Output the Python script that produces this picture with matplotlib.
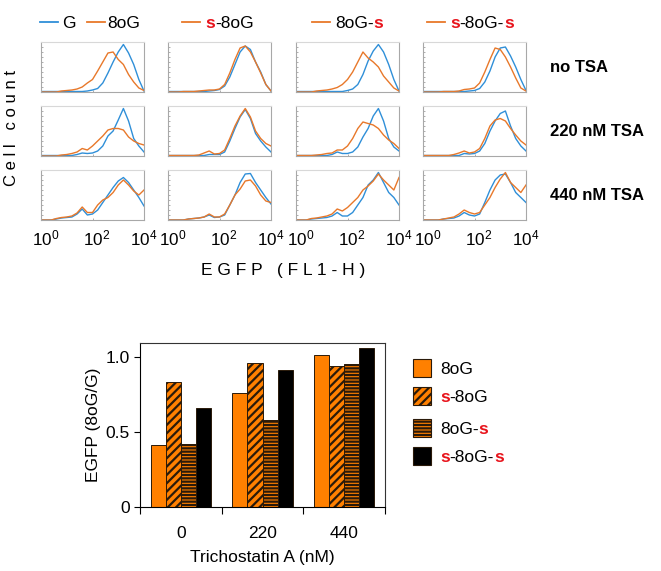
import matplotlib
matplotlib.use('Agg')
import matplotlib.pyplot as plt
from matplotlib.offsetbox import TextArea, HPacker, AnnotationBbox
from matplotlib.patches import Rectangle
from matplotlib.lines import Line2D
from matplotlib.transforms import ScaledTranslation

plt.rcParams['font.family'] = ['Liberation Sans', 'DejaVu Sans']
plt.rcParams['mathtext.fontset'] = 'custom'
plt.rcParams['mathtext.rm'] = 'Liberation Sans'
plt.rcParams['mathtext.it'] = 'Liberation Sans:italic'
plt.rcParams['mathtext.bf'] = 'Liberation Sans:bold'
plt.rcParams['hatch.linewidth'] = 1.6

# ---------------- data: flow histograms ----------------
# log10 fluorescence positions (10^0 .. 10^4)
fluor_exp = [0.0, 0.2, 0.4, 0.6, 0.8, 1.0, 1.2, 1.4, 1.6, 1.8, 2.0,
             2.2, 2.4, 2.6, 2.8, 3.0, 3.2, 3.4, 3.6, 3.8, 4.0]

# row 1: no TSA
g_r1c1 = [0.01, 0.01, 0.01, 0.01, 0.01, 0.01, 0.01, 0.01, 0.01, 0.02, 0.04, 0.07, 0.18, 0.38, 0.60, 0.80, 0.95, 0.78, 0.55, 0.25, 0.02]
o_r1c1 = [0.00, 0.00, 0.00, 0.00, 0.02, 0.03, 0.04, 0.06, 0.10, 0.18, 0.25, 0.42, 0.60, 0.78, 0.80, 0.65, 0.55, 0.35, 0.20, 0.08, 0.03]
g_r1c2 = [0.01, 0.01, 0.01, 0.01, 0.01, 0.01, 0.01, 0.01, 0.02, 0.03, 0.05, 0.12, 0.30, 0.55, 0.80, 0.92, 0.85, 0.60, 0.40, 0.15, 0.02]
o_r1c2 = [0.00, 0.00, 0.00, 0.01, 0.01, 0.01, 0.02, 0.03, 0.04, 0.04, 0.06, 0.15, 0.38, 0.65, 0.88, 0.92, 0.80, 0.60, 0.38, 0.15, 0.02]
g_r1c3 = [0.01, 0.01, 0.01, 0.01, 0.01, 0.01, 0.01, 0.01, 0.01, 0.01, 0.03, 0.06, 0.15, 0.35, 0.62, 0.82, 0.95, 0.80, 0.55, 0.25, 0.02]
o_r1c3 = [0.00, 0.00, 0.00, 0.00, 0.02, 0.03, 0.04, 0.06, 0.09, 0.15, 0.25, 0.40, 0.60, 0.80, 0.68, 0.60, 0.50, 0.32, 0.20, 0.08, 0.02]
g_r1c4 = [0.01, 0.01, 0.01, 0.01, 0.01, 0.01, 0.01, 0.01, 0.01, 0.02, 0.03, 0.07, 0.20, 0.42, 0.70, 0.88, 0.90, 0.72, 0.50, 0.25, 0.03]
o_r1c4 = [0.00, 0.00, 0.00, 0.00, 0.01, 0.01, 0.01, 0.02, 0.05, 0.06, 0.08, 0.18, 0.40, 0.65, 0.88, 0.85, 0.70, 0.50, 0.28, 0.08, 0.02]
# row 2: 220 nM TSA
g_r2c1 = [0.01, 0.01, 0.01, 0.01, 0.01, 0.01, 0.01, 0.03, 0.06, 0.05, 0.06, 0.10, 0.20, 0.40, 0.50, 0.72, 0.95, 0.70, 0.35, 0.20, 0.08]
o_r2c1 = [0.00, 0.00, 0.00, 0.00, 0.02, 0.03, 0.05, 0.08, 0.15, 0.12, 0.20, 0.30, 0.40, 0.52, 0.55, 0.55, 0.52, 0.38, 0.30, 0.25, 0.22]
g_r2c2 = [0.01, 0.01, 0.01, 0.01, 0.01, 0.01, 0.01, 0.01, 0.03, 0.03, 0.03, 0.08, 0.30, 0.55, 0.78, 0.93, 0.75, 0.45, 0.30, 0.18, 0.08]
o_r2c2 = [0.01, 0.01, 0.01, 0.01, 0.01, 0.01, 0.02, 0.06, 0.10, 0.04, 0.05, 0.12, 0.35, 0.60, 0.80, 0.95, 0.78, 0.50, 0.35, 0.25, 0.20]
g_r2c3 = [0.01, 0.01, 0.01, 0.01, 0.01, 0.01, 0.01, 0.03, 0.08, 0.05, 0.05, 0.08, 0.18, 0.38, 0.55, 0.80, 0.95, 0.70, 0.35, 0.18, 0.10]
o_r2c3 = [0.01, 0.01, 0.01, 0.01, 0.02, 0.03, 0.05, 0.06, 0.12, 0.12, 0.20, 0.35, 0.55, 0.68, 0.65, 0.62, 0.55, 0.42, 0.32, 0.25, 0.15]
g_r2c4 = [0.01, 0.01, 0.01, 0.01, 0.01, 0.01, 0.01, 0.01, 0.05, 0.04, 0.05, 0.10, 0.25, 0.50, 0.70, 0.85, 0.90, 0.60, 0.35, 0.20, 0.10]
o_r2c4 = [0.01, 0.01, 0.01, 0.01, 0.01, 0.01, 0.03, 0.06, 0.10, 0.06, 0.08, 0.15, 0.35, 0.60, 0.72, 0.75, 0.70, 0.55, 0.42, 0.30, 0.22]
# row 3: 440 nM TSA
g_r3c1 = [0.00, 0.00, 0.00, 0.02, 0.04, 0.05, 0.06, 0.12, 0.22, 0.10, 0.12, 0.20, 0.35, 0.50, 0.65, 0.78, 0.85, 0.75, 0.60, 0.45, 0.28]
o_r3c1 = [0.00, 0.00, 0.00, 0.03, 0.05, 0.06, 0.08, 0.14, 0.26, 0.15, 0.15, 0.30, 0.40, 0.45, 0.55, 0.70, 0.80, 0.70, 0.58, 0.50, 0.60]
g_r3c2 = [0.00, 0.00, 0.00, 0.00, 0.02, 0.03, 0.04, 0.06, 0.10, 0.05, 0.06, 0.10, 0.30, 0.50, 0.75, 0.92, 0.93, 0.75, 0.60, 0.45, 0.32]
o_r3c2 = [0.00, 0.00, 0.00, 0.00, 0.02, 0.03, 0.04, 0.06, 0.12, 0.06, 0.06, 0.12, 0.30, 0.50, 0.62, 0.78, 0.80, 0.68, 0.50, 0.38, 0.35]
g_r3c3 = [0.00, 0.00, 0.00, 0.02, 0.03, 0.04, 0.05, 0.08, 0.15, 0.08, 0.08, 0.15, 0.30, 0.45, 0.70, 0.80, 0.95, 0.75, 0.55, 0.45, 0.30]
o_r3c3 = [0.00, 0.00, 0.00, 0.03, 0.04, 0.06, 0.08, 0.12, 0.22, 0.18, 0.25, 0.35, 0.45, 0.60, 0.68, 0.78, 0.92, 0.80, 0.70, 0.60, 0.85]
g_r3c4 = [0.00, 0.00, 0.00, 0.00, 0.02, 0.03, 0.04, 0.08, 0.15, 0.10, 0.08, 0.12, 0.35, 0.60, 0.80, 0.90, 0.92, 0.75, 0.55, 0.45, 0.35]
o_r3c4 = [0.00, 0.00, 0.00, 0.00, 0.02, 0.04, 0.06, 0.12, 0.20, 0.15, 0.12, 0.15, 0.30, 0.45, 0.65, 0.82, 0.95, 0.75, 0.65, 0.55, 0.70]

hist_blue = [[g_r1c1, g_r1c2, g_r1c3, g_r1c4],
             [g_r2c1, g_r2c2, g_r2c3, g_r2c4],
             [g_r3c1, g_r3c2, g_r3c3, g_r3c4]]
hist_orange = [[o_r1c1, o_r1c2, o_r1c3, o_r1c4],
               [o_r2c1, o_r2c2, o_r2c3, o_r2c4],
               [o_r3c1, o_r3c2, o_r3c3, o_r3c4]]
row_labels = ['no TSA', '220 nM TSA', '440 nM TSA']
hist_xticks = [1, 100, 10000]
hist_xticklabels = [r'$\mathregular{10^{0}}$', r'$\mathregular{10^{2}}$', r'$\mathregular{10^{4}}$']

# ---------------- data: bar chart ----------------
tsa_cats = ['0', '220', '440']
egfp_8oG = [0.41, 0.76, 1.01]
egfp_s8oG = [0.83, 0.96, 0.94]
egfp_8oGs = [0.42, 0.58, 0.95]
egfp_s8oGs = [0.66, 0.91, 1.06]

# ---------------- styling ----------------
W, H = 661, 571
BLUE = '#2f8fd8'
ORANGE = '#e8782a'
BAR_OR = '#ff8000'
RED = '#e8141c'
FS = 12.5

fig = plt.figure(figsize=(W / 100, H / 100), dpi=100)


def add_ax(left, top, w, h):
    return fig.add_axes([left / W, 1 - (top + h) / H, w / W, h / H])


def rich(x, y, parts, size=FS):
    kids = [TextArea(t, textprops=dict(color=c, fontsize=size, fontweight=wt)) for t, c, wt in parts]
    box = HPacker(children=kids, align='baseline', pad=0, sep=0)
    ab = AnnotationBbox(box, (x, H - y), xycoords='figure pixels', box_alignment=(0, 0.5),
                        frameon=False, pad=0)
    fig.add_artist(ab)


def hline(x0, x1, y, color):
    fig.add_artist(Line2D([x0 / W, x1 / W], [1 - y / H, 1 - y / H], color=color, lw=1.3))


col_left = [41, 168, 296, 423]
row_top = [42, 106, 170]
PW, PH = 103, 50
tick_shift_px = [5, 4, 0]

xs = [10 ** e for e in fluor_exp]
for r in range(3):
    for c in range(4):
        ax = add_ax(col_left[c], row_top[r], PW, PH)
        ax.plot(xs, hist_blue[r][c], color=BLUE, lw=1.0)
        ax.plot(xs, hist_orange[r][c], color=ORANGE, lw=1.0)
        ax.set_xscale('log')
        ax.set_xlim(1, 10000)
        ax.set_ylim(0, 1.0)
        for s in ax.spines.values():
            s.set_color('#a8a8a8')
            s.set_linewidth(0.8)
        ax.spines['top'].set_color('#d8d8d8')
        ax.set_yticks([0.1 * i for i in range(1, 10)])
        ax.set_yticklabels([])
        ax.tick_params(axis='y', direction='in', length=1.5, color='#a0a0a0', width=0.6)
        ax.tick_params(axis='x', which='both', direction='in', length=1.5, color='#a0a0a0', width=0.6)
        ax.set_xticks(hist_xticks)
        if r == 2:
            ax.set_xticklabels(hist_xticklabels, fontsize=12.3)
            ax.tick_params(axis='x', which='major', pad=6)
            for lab, dx in zip(ax.get_xticklabels(), tick_shift_px):
                lab.set_transform(lab.get_transform() + ScaledTranslation(dx / 100, 0, fig.dpi_scale_trans))
        else:
            ax.set_xticklabels([])
        ax.xaxis.set_minor_formatter(plt.NullFormatter())
    fig.text(550 / W, 1 - (row_top[r] + PH / 2 + 1) / H, row_labels[r], fontsize=12,
             fontweight='bold', va='center', ha='left')

# top legend
hline(40, 58, 22, BLUE)
rich(62, 23, [('G', 'black', 'normal')])
hline(87, 105, 22, ORANGE)
rich(107, 23, [('8oG', 'black', 'normal')])
hline(182, 200, 22, ORANGE)
rich(205, 23, [('s', RED, 'bold'), ('-8oG', 'black', 'normal')])
hline(312, 330, 22, ORANGE)
rich(335, 23, [('8oG-', 'black', 'normal'), ('s', RED, 'bold')])
hline(427, 445, 22, ORANGE)
rich(450, 23, [('s', RED, 'bold'), ('-8oG-', 'black', 'normal'), ('s', RED, 'bold')])

fig.text(12 / W, 1 - 128 / H, 'C e l l   c o u n t', rotation=90, ha='center', va='center', fontsize=12)
fig.text(283 / W, 1 - 271 / H, 'E G F P   ( F L 1 - H )', ha='center', va='center', fontsize=12.5)

# ---------------- bar chart ----------------
bax = add_ax(140, 343, 245, 164)
series = [egfp_8oG, egfp_s8oG, egfp_8oGs, egfp_s8oGs]
faces = [BAR_OR, BAR_OR, BAR_OR, 'black']
hatches = [None, '////', '-----', None]
bw = 0.185
for k, (vals, fc, ht) in enumerate(zip(series, faces, hatches)):
    pos = [i + 0.5 + (k - 1.5) * bw for i in range(len(tsa_cats))]
    bax.bar(pos, vals, width=bw, color=fc, hatch=ht, edgecolor='#2a1a0a', linewidth=0.7)
bax.set_xlim(0, 3)
bax.set_ylim(0, 1.093)
bax.set_yticks([0, 0.5, 1.0])
bax.set_yticklabels(['0', '0.5', '1.0'], fontsize=FS)
bax.set_xticks([0, 1, 2, 3])
bax.set_xticklabels([])
bax.set_xticks([0.5, 1.5, 2.5], minor=True)
bax.set_xticklabels(tsa_cats, minor=True, fontsize=FS)
bax.tick_params(axis='x', which='minor', length=0, pad=14)
bax.tick_params(axis='x', which='major', length=5, width=0.8, direction='out')
bax.tick_params(axis='y', length=4, width=0.8, direction='out')
for s in bax.spines.values():
    s.set_linewidth(0.8)
bax.spines['top'].set_color('#333333')
bax.spines['right'].set_color('#333333')
bax.set_ylabel('EGFP (8oG/G)', fontsize=FS, labelpad=3)
bax.set_xlabel('Trichostatin A (nM)', fontsize=FS, labelpad=6)

# bar legend
leg_y = [368, 396, 428, 456]
leg_parts = [[('8oG', 'black', 'normal')],
             [('s', RED, 'bold'), ('-8oG', 'black', 'normal')],
             [('8oG-', 'black', 'normal'), ('s', RED, 'bold')],
             [('s', RED, 'bold'), ('-8oG-', 'black', 'normal'), ('s', RED, 'bold')]]
for y, fc, ht, parts in zip(leg_y, faces, hatches, leg_parts):
    fig.add_artist(Rectangle((413 / W, 1 - (y + 9) / H), 18 / W, 18 / H, transform=fig.transFigure,
                             facecolor=fc, hatch=ht, edgecolor='#2a1a0a', linewidth=0.8))
    rich(440, y + 1, parts, size=FS)

fig.savefig('out.png', dpi=100)
